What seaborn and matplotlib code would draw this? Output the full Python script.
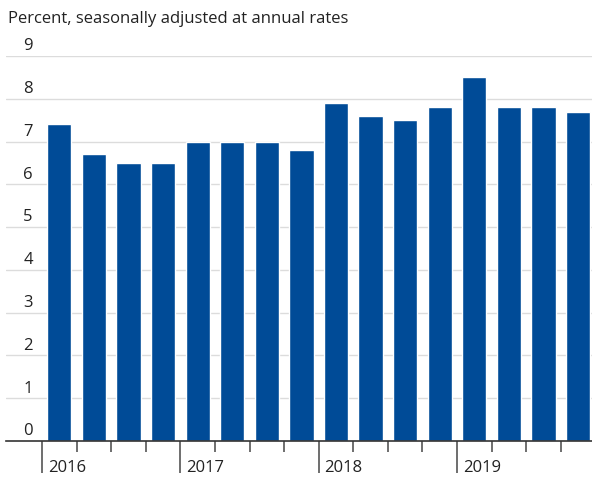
import matplotlib.pyplot as plt
import matplotlib.transforms as mtransforms
import seaborn as sns
import pandas as pd

# quarterly values, 2016 Q1 .. 2019 Q4
quarters = ['2016Q1', '2016Q2', '2016Q3', '2016Q4',
            '2017Q1', '2017Q2', '2017Q3', '2017Q4',
            '2018Q1', '2018Q2', '2018Q3', '2018Q4',
            '2019Q1', '2019Q2', '2019Q3', '2019Q4']
values = [7.4, 6.7, 6.5, 6.5,
          7.0, 7.0, 7.0, 6.8,
          7.9, 7.6, 7.5, 7.8,
          8.5, 7.8, 7.8, 7.7]
years = ['2016', '2017', '2018', '2019']
yticks = [0, 1, 2, 3, 4, 5, 6, 7, 8, 9]

df = pd.DataFrame({'quarter': quarters, 'value': values})

sns.set_style('white')
plt.rcParams['font.family'] = ['Open Sans', 'DejaVu Sans']

fig = plt.figure(figsize=(5.92, 4.79), dpi=100)
ax = fig.add_axes([6 / 592, 38 / 479, 586 / 592, 385 / 479])

sns.barplot(data=df, x='quarter', y='value', color='#004b97', saturation=1,
            width=0.7, ax=ax, zorder=3)

ax.set_xlim(-1.54, 15.4)
ax.set_ylim(0, 9)

# horizontal gridlines with labels above them
for v in yticks[1:]:
    ax.axhline(v, color='#dcdcdc', lw=1, zorder=1)
ax.set_yticks([])
ax.set_ylabel('')
ax.set_xlabel('')
trans = mtransforms.blended_transform_factory(ax.transAxes, ax.transData)
for v in yticks:
    ax.text(22 / 586, v + 0.04, str(v), transform=trans, ha='center', va='bottom',
            fontsize=12, color='#222222')

for s in ['top', 'right', 'left']:
    ax.spines[s].set_visible(False)
ax.spines['bottom'].set_color('#333333')
ax.spines['bottom'].set_linewidth(1.2)
ax.spines['bottom'].set_zorder(4)

# quarter ticks and year ticks
n = len(quarters)
ax.set_xticks([i - 0.5 for i in range(0, n, 4)])
ax.set_xticks([i - 0.5 for i in range(n) if i % 4 != 0], minor=True)
ax.set_xticklabels([])
ax.tick_params(axis='x', which='major', length=23, width=1.2, color='#555555', bottom=True)
ax.tick_params(axis='x', which='minor', length=8, width=1.2, color='#555555', bottom=True)

transx = mtransforms.blended_transform_factory(ax.transData, fig.transFigure)
for k, y in enumerate(years):
    ax.text(4 * k - 0.5 + 0.17, 11 / 479, y, transform=transx, ha='left', va='center',
            fontsize=12, color='#222222')

fig.text(8 / 592, 1 - 19 / 479, 'Percent, seasonally adjusted at annual rates',
         ha='left', va='center', fontsize=12, color='#222222')

fig.savefig('out.png', dpi=100)
